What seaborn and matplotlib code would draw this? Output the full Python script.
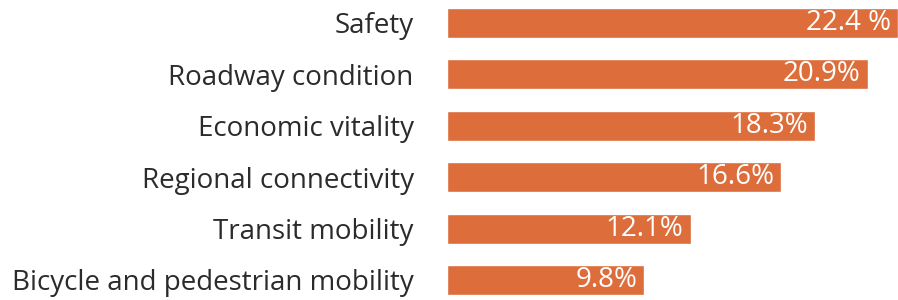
import pandas as pd
import matplotlib.pyplot as plt
import seaborn as sns

# Chart data
categories = ['Safety', 'Roadway condition', 'Economic vitality',
              'Regional connectivity', 'Transit mobility',
              'Bicycle and pedestrian mobility']
shares = [22.4, 20.9, 18.3, 16.6, 12.1, 9.8]
value_labels = ['22.4 %', '20.9%', '18.3%', '16.6%', '12.1%', '9.8%']

df = pd.DataFrame({'Category': categories, 'Share': shares})

sns.set_style('white')
plt.rcParams['font.family'] = ['Open Sans', 'DejaVu Sans']

fig = plt.figure(figsize=(8.98, 3.0), dpi=100)
ax = fig.add_axes([0.4978, -0.019, 0.5022, 1.028])

sns.barplot(data=df, x='Share', y='Category', orient='h', color='#DD6D3B',
            saturation=1, width=0.58, ax=ax)

# Value labels inside the bar ends
for i, (v, lab) in enumerate(zip(shares, value_labels)):
    ax.annotate(lab, xy=(v, i), xytext=(-5, 0), textcoords='offset points',
                ha='right', va='center', color='white', fontsize=20)

ax.set_xlim(0, 22.4)
ax.set_ylim(5.5, -0.5)
ax.set_xlabel('')
ax.set_ylabel('')
ax.set_xticks([])
ax.tick_params(axis='y', length=0, pad=24, labelsize=20, labelcolor='#2b2b2b')
sns.despine(ax=ax, left=True, bottom=True)

plt.savefig('out.png', dpi=100)
